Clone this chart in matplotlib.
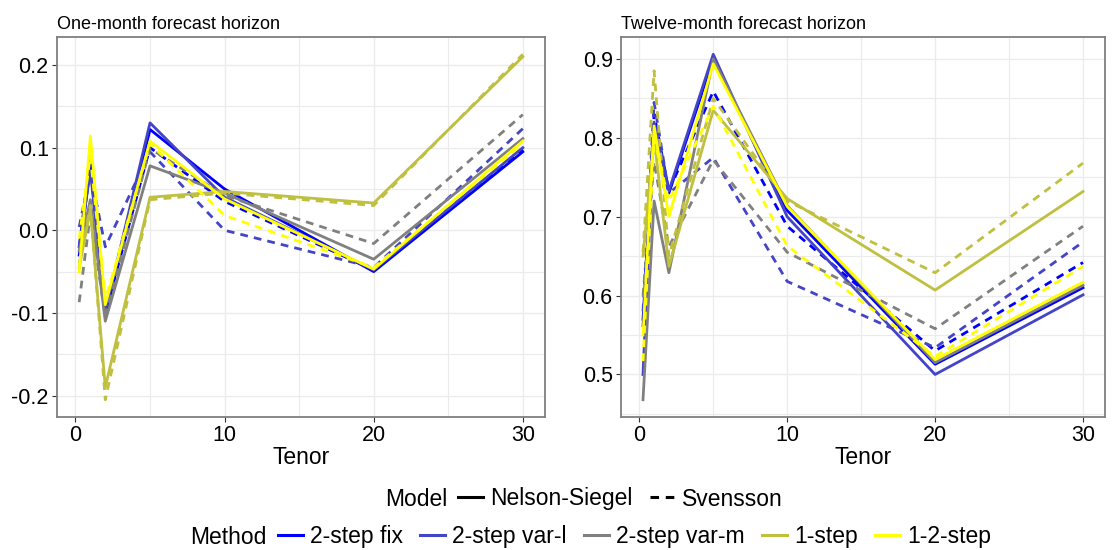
import numpy as np
import matplotlib.pyplot as plt
from matplotlib.lines import Line2D
from matplotlib.ticker import MultipleLocator

plt.rcParams['font.family'] = ['Liberation Sans', 'DejaVu Sans']

tenor = [0.25, 1, 2, 5, 10, 20, 30]
methods = ['2-step fix', '2-step var-l', '2-step var-m', '1-step', '1-2-step']
colors = ['#0000FF', '#4444C8', '#808080', '#BFBF40', '#FFFF00']

# one-month horizon, Nelson-Siegel (solid) and Svensson (dashed)
one_ns = {
    '2-step fix':   [-0.030, 0.078, -0.103, 0.122, 0.050, -0.050, 0.095],
    '2-step var-l': [-0.020, 0.072, -0.098, 0.130, 0.040, -0.048, 0.100],
    '2-step var-m': [-0.025, 0.037, -0.110, 0.078, 0.045, -0.035, 0.111],
    '1-step':       [-0.045, 0.025, -0.190, 0.040, 0.047, 0.033, 0.210],
    '1-2-step':     [-0.050, 0.114, -0.090, 0.108, 0.038, -0.047, 0.108],
}
one_sv = {
    '2-step fix':   [-0.020, 0.089, -0.100, 0.100, 0.035, -0.048, 0.098],
    '2-step var-l': [0.004, 0.070, -0.020, 0.095, 0.000, -0.045, 0.123],
    '2-step var-m': [-0.087, 0.020, -0.105, 0.099, 0.042, -0.016, 0.140],
    '1-step':       [-0.040, 0.030, -0.205, 0.037, 0.045, 0.030, 0.213],
    '1-2-step':     [-0.010, 0.090, -0.085, 0.105, 0.018, -0.045, 0.105],
}
# twelve-month horizon
twelve_ns = {
    '2-step fix':   [0.570, 0.810, 0.730, 0.900, 0.708, 0.513, 0.610],
    '2-step var-l': [0.500, 0.820, 0.733, 0.906, 0.700, 0.500, 0.601],
    '2-step var-m': [0.468, 0.720, 0.629, 0.900, 0.714, 0.515, 0.613],
    '1-step':       [0.650, 0.800, 0.637, 0.835, 0.723, 0.607, 0.732],
    '1-2-step':     [0.550, 0.815, 0.700, 0.894, 0.713, 0.519, 0.617],
}
twelve_sv = {
    '2-step fix':   [0.560, 0.830, 0.733, 0.859, 0.688, 0.530, 0.642],
    '2-step var-l': [0.580, 0.845, 0.730, 0.775, 0.618, 0.534, 0.668],
    '2-step var-m': [0.600, 0.770, 0.662, 0.772, 0.655, 0.558, 0.688],
    '1-step':       [0.655, 0.885, 0.650, 0.850, 0.720, 0.629, 0.768],
    '1-2-step':     [0.517, 0.800, 0.720, 0.840, 0.663, 0.523, 0.637],
}

DASH = (0, (2.8, 2.2))

fig = plt.figure(figsize=(11.13, 5.5), dpi=100)
ax1 = fig.add_axes([57 / 1113, 1 - 417 / 550, 488 / 1113, 380 / 550])
ax2 = fig.add_axes([621 / 1113, 1 - 417 / 550, 484 / 1113, 380 / 550])


def draw_panel(ax, ns, sv, title):
    for m, c in zip(methods, colors):
        ax.plot(tenor, ns[m], color=c, lw=2.0, zorder=3)
        ax.plot(tenor, sv[m], color=c, lw=2.0, ls=DASH, zorder=3)
    allv = np.concatenate([np.array(ns[m] + sv[m]) for m in methods])
    lo, hi = allv.min(), allv.max()
    pad = (hi - lo) * 0.05
    ax.set_ylim(lo - pad, hi + pad)
    xpad = (tenor[-1] - tenor[0]) * 0.05
    ax.set_xlim(tenor[0] - xpad, tenor[-1] + xpad)
    ax.xaxis.set_major_locator(MultipleLocator(10))
    ax.xaxis.set_minor_locator(MultipleLocator(5))
    ax.yaxis.set_major_locator(MultipleLocator(0.1))
    ax.yaxis.set_minor_locator(MultipleLocator(0.05))
    ax.grid(True, which='major', color='#EBEBEB', lw=1.0, zorder=0)
    ax.grid(True, which='minor', color='#EBEBEB', lw=0.8, zorder=0)
    ax.set_axisbelow(True)
    for s in ax.spines.values():
        s.set_color('#7F7F7F')
        s.set_linewidth(1.3)
    ax.tick_params(which='major', length=3.5, color='#333333', labelsize=15.5,
                   labelcolor='black', pad=2.5)
    ax.tick_params(which='minor', length=0)
    ax.set_xlabel('Tenor', fontsize=16.5, labelpad=0)
    ax.set_title(title, loc='left', fontsize=13, pad=6)


draw_panel(ax1, one_ns, one_sv, 'One-month forecast horizon')
draw_panel(ax2, twelve_ns, twelve_sv, 'Twelve-month forecast horizon')
ax1.yaxis.set_major_formatter(lambda v, p: f'{v:.1f}'.replace('-0.0', '0.0'))

# legends
leg_kw = dict(loc='center left', frameon=False, fontsize=16.5, handlelength=1.1,
              handletextpad=0.3, columnspacing=0.75, borderaxespad=0, borderpad=0)

fig.text(385 / 1113, 1 - 499 / 550, 'Model', fontsize=16.5, va='center', ha='left')
model_handles = [Line2D([], [], color='black', lw=2.2),
                 Line2D([], [], color='black', lw=2.2, ls=DASH)]
fig.legend(model_handles, ['Nelson-Siegel', 'Svensson'], ncol=2,
           bbox_to_anchor=(458 / 1113, 1 - 499 / 550), **leg_kw)

fig.text(190 / 1113, 1 - 537 / 550, 'Method', fontsize=16.5, va='center', ha='left')
method_handles = [Line2D([], [], color=c, lw=2.2) for c in colors]
fig.legend(method_handles, methods, ncol=5,
           bbox_to_anchor=(278 / 1113, 1 - 537 / 550), **leg_kw)

fig.savefig('out.png', dpi=100)
